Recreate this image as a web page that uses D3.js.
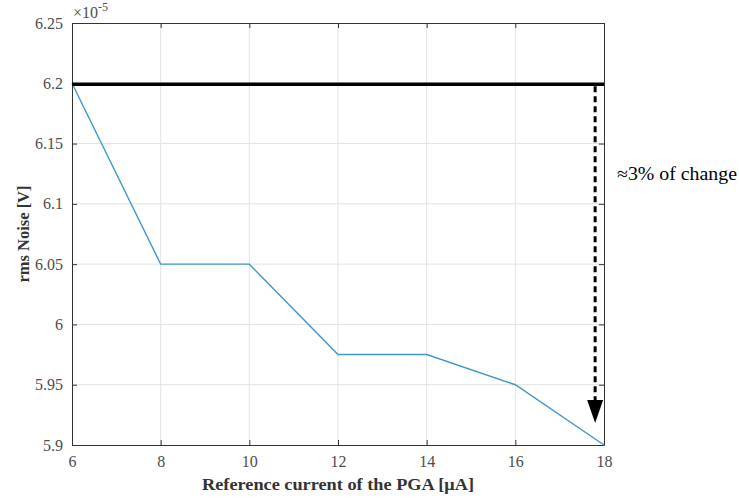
<!DOCTYPE html>
<html lang="en">
<head>
  <meta charset="UTF-8" />
  <title>rms Noise vs reference current</title>
  <style>
  body { margin: 0; background: #fff; }
  svg { display: block; font-family: "Liberation Serif", "Times New Roman", serif; }
  </style>
  <script src="https://d3js.org/d3.v7.min.js"></script>
</head>
<body>
  <div id="chart"></div>
  <script>
    // data
    const current = [6, 8, 10, 12, 14, 16, 18];
    const noise = [6.2, 6.05, 6.05, 5.975, 5.975, 5.95, 5.9];
    const xTicks = [6, 8, 10, 12, 14, 16, 18];
    const yTicks = [5.9, 5.95, 6, 6.05, 6.1, 6.15, 6.2, 6.25];
    const refLevel = 6.2;
    const arrowX = 17.8;
    const arrowFrom = 6.2;
    const arrowTo = 5.9;
    const note = "≈3% of change";

    const width = 739, height = 503;
    const margin = { top: 23, right: 135, bottom: 58, left: 72 };
    const serif = "Liberation Serif, Times New Roman, serif";

    const svg = d3.select("#chart").append("svg")
      .attr("width", width)
      .attr("height", height);

    const x = d3.scaleLinear().domain([6, 18]).range([margin.left, width - margin.right]);
    const y = d3.scaleLinear().domain([5.9, 6.25]).range([height - margin.bottom, margin.top]);

    // grid
    svg.append("g").selectAll("line").data(xTicks.slice(1, -1)).enter().append("line")
      .attr("x1", d => x(d)).attr("x2", d => x(d))
      .attr("y1", y(5.9)).attr("y2", y(6.25))
      .attr("stroke", "#e3e3e3");
    svg.append("g").selectAll("line").data(yTicks.slice(1, -1)).enter().append("line")
      .attr("x1", x(6)).attr("x2", x(18))
      .attr("y1", d => y(d)).attr("y2", d => y(d))
      .attr("stroke", "#e3e3e3");

    // axes, ticks pointing inward
    const fmt = d => String(+d.toFixed(2));
    const axisColor = "#333";
    const axBottom = svg.append("g")
      .attr("transform", `translate(0,${y(5.9)})`)
      .call(d3.axisBottom(x).tickValues(xTicks).tickFormat(fmt).tickSizeInner(-5).tickSizeOuter(0).tickPadding(11));
    const axLeft = svg.append("g")
      .attr("transform", `translate(${x(6)},0)`)
      .call(d3.axisLeft(y).tickValues(yTicks).tickFormat(fmt).tickSizeInner(-5).tickSizeOuter(0).tickPadding(9));
    const axTop = svg.append("g")
      .attr("transform", `translate(0,${y(6.25)})`)
      .call(d3.axisTop(x).tickValues(xTicks).tickFormat("").tickSizeInner(-5).tickSizeOuter(0));
    const axRight = svg.append("g")
      .attr("transform", `translate(${x(18)},0)`)
      .call(d3.axisRight(y).tickValues(yTicks).tickFormat("").tickSizeInner(-5).tickSizeOuter(0));
    [axBottom, axLeft, axTop, axRight].forEach(g => {
      g.attr("font-family", serif);
      g.selectAll("path, line").attr("stroke", axisColor);
      g.selectAll("text").attr("fill", "#4d4d4d").attr("font-size", 16);
    });

    // exponent label
    const expo = svg.append("text")
      .attr("x", x(6) + 1).attr("y", y(6.25) - 5)
      .attr("font-family", serif)
      .attr("fill", "#4d4d4d").attr("font-size", 16);
    expo.append("tspan").text("×10");
    expo.append("tspan").attr("dy", -7).attr("font-size", 12).text("-5");

    // data line
    svg.append("path")
      .datum(current.map((c, i) => [c, noise[i]]))
      .attr("fill", "none")
      .attr("stroke", "#3f97cb")
      .attr("stroke-width", 1.4)
      .attr("d", d3.line().x(d => x(d[0])).y(d => y(d[1])));

    // thick reference line
    svg.append("line")
      .attr("x1", x(6)).attr("x2", x(18))
      .attr("y1", y(refLevel) + 1).attr("y2", y(refLevel) + 1)
      .attr("stroke", "#000").attr("stroke-width", 3.5);

    // dashed arrow
    svg.append("line")
      .attr("x1", x(arrowX)).attr("x2", x(arrowX))
      .attr("y1", y(arrowFrom) + 3).attr("y2", y(arrowTo) - 40)
      .attr("stroke", "#000").attr("stroke-width", 3)
      .attr("stroke-dasharray", "6,4");
    const tipY = y(arrowTo) - 22, ax = x(arrowX);
    svg.append("path")
      .attr("d", `M${ax - 8},${tipY - 23}L${ax + 8},${tipY - 23}L${ax},${tipY}Z`)
      .attr("fill", "#000");

    // annotation text
    svg.append("text")
      .attr("x", x(18) + 13).attr("y", 180)
      .attr("font-family", serif)
      .attr("fill", "#000").attr("font-size", 18)
      .attr("textLength", 120).attr("lengthAdjust", "spacingAndGlyphs")
      .text(note);

    // axis titles
    svg.append("text")
      .attr("x", (x(6) + x(18)) / 2).attr("y", 490)
      .attr("font-family", serif)
      .attr("text-anchor", "middle").attr("font-weight", "bold")
      .attr("font-size", 16).attr("fill", "#333")
      .attr("textLength", 272).attr("lengthAdjust", "spacingAndGlyphs")
      .text("Reference current of the PGA [μA]");
    svg.append("text")
      .attr("transform", `translate(29,${(y(5.9) + y(6.25)) / 2}) rotate(-90)`)
      .attr("font-family", serif)
      .attr("text-anchor", "middle").attr("font-weight", "bold")
      .attr("font-size", 16).attr("fill", "#333")
      .attr("textLength", 97).attr("lengthAdjust", "spacingAndGlyphs")
      .text("rms Noise [V]");
  </script>
</body>
</html>
